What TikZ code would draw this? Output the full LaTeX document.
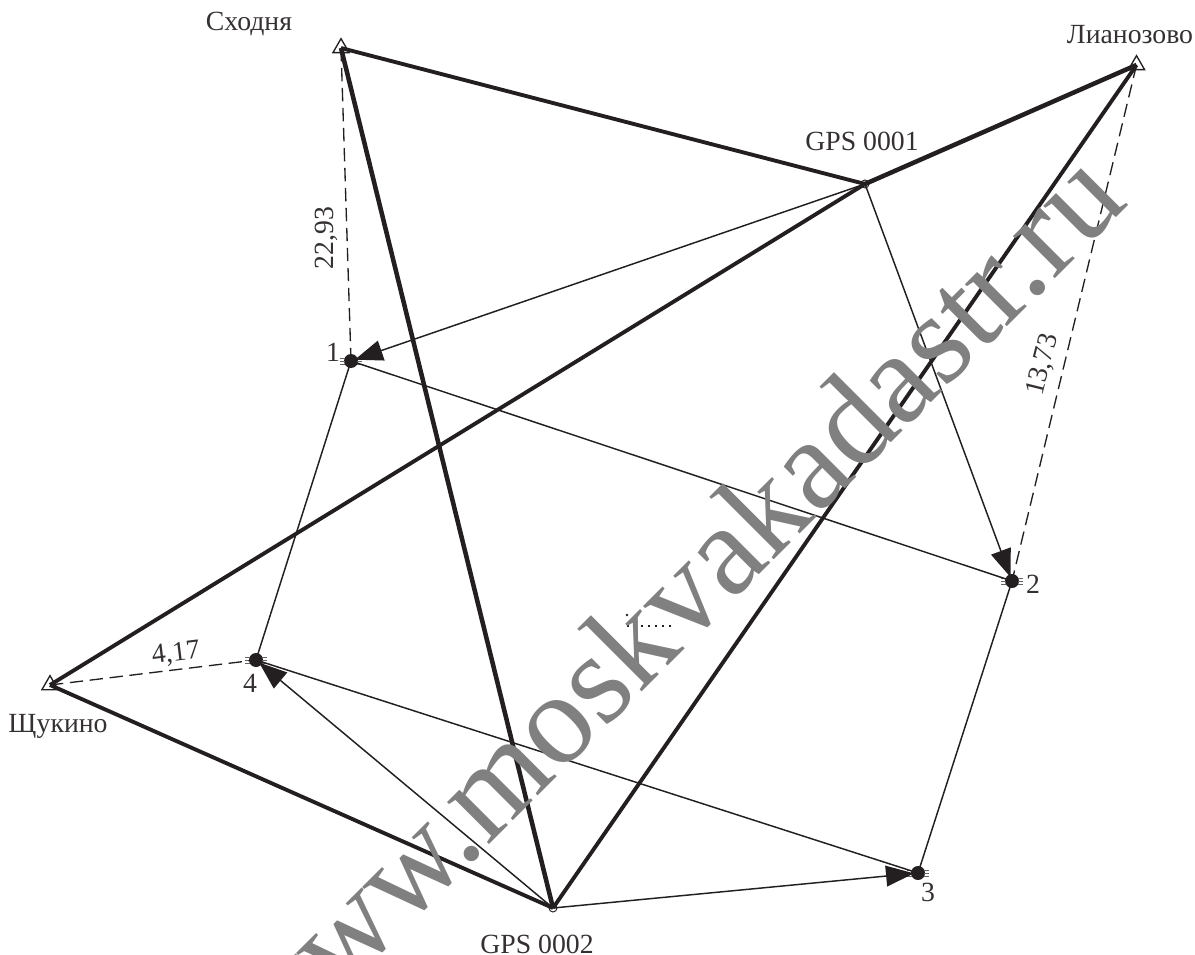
\documentclass[tikz,border=0pt]{standalone}
\usepackage{fontspec}
\setmainfont{Liberation Serif}
\usetikzlibrary{arrows.meta,shapes.geometric}
\definecolor{ink}{HTML}{231F20}
\tikzset{
  thick line/.style={line width=2.9pt,ink},
  heavy line/.style={line width=3.4pt,ink},
  thin line/.style={line width=1.1pt,ink},
  dash line/.style={line width=1.0pt,ink,dash pattern=on 10pt off 5pt},
  arrow line/.style={thin line,-{Triangle[length=21pt,width=15.5pt]},shorten >=3pt},
  lbl/.style={font=\fontsize{20.8pt}{24pt}\selectfont,text=ink!92,inner sep=0pt},
  tri/.style={draw=ink,line width=1pt,regular polygon,regular polygon sides=3,minimum size=14pt,inner sep=0pt},
  pt/.style={circle,fill=ink,minimum size=10.5pt,inner sep=0pt},
  gps/.style={circle,draw=ink,line width=0.7pt,minimum size=6pt,inner sep=0pt},
  hair/.style={line width=0.35pt,ink!70},
}
\begin{document}
\begin{tikzpicture}[x=0.75pt,y=-0.75pt]
\useasboundingbox (0,0) rectangle (1195,955);
\begin{scope}
\clip (0,0) rectangle (1195,955);
% stations and points
\node[tri] (S) at (341,48) {};
\node[tri] (L) at (1136.5,65) {};
\node[tri] (Sh) at (50,685) {};
\node[gps] (G1) at (865,184) {};
\node[gps] (G2) at (553,908) {};
\node[pt] (P1) at (351,361) {};
\node[pt] (P2) at (1012,581) {};
\node[pt] (P3) at (918,873) {};
\node[pt] (P4) at (256,660) {};
% hairline ticks on the points
\foreach \n in {P1,P2,P3,P4}{
  \foreach \dy in {-3,0,3}{
    \draw[hair] ([shift={(-11,\dy)}]\n.center) -- ([shift={(-6,\dy)}]\n.center);
    \draw[hair] ([shift={(6,\dy)}]\n.center) -- ([shift={(11,\dy)}]\n.center);
  }
}
% thick
\draw[thick line] (S.center) -- (G1.center);
\draw[heavy line] (S.center) -- (G2.center);
\draw[heavy line] (L.center) -- (G1.center);
\draw[thick line] (L.center) -- (G2.center);
\draw[thick line] (Sh.center) -- (G1.center);
\draw[thick line] (Sh.center) -- (G2.center);
% thin
\draw[thin line] (P1.center) -- (P4.center);
\draw[thin line] (P1.center) -- (P2.center);
\draw[thin line] (P2.center) -- (P3.center);
\draw[thin line] (P4.center) -- (P3.center);
\draw[arrow line] (G1.center) -- (P1.center);
\draw[arrow line] (G1.center) -- (P2.center);
\draw[arrow line] (G2.center) -- (P3.center);
\draw[arrow line] (G2.center) -- (P4.center);
% dashed
\draw[dash line] (S.center) -- (P1.center);
\draw[dash line] (L.center) -- (P2.center);
\draw[dash line] (Sh.center) -- (P4.center);
% dotted
\coordinate (D1) at (627,615);
\coordinate (D2) at (627,626);
\coordinate (D3) at (672,626);
\draw[line width=1.4pt,ink,dash pattern=on 1.5pt off 3.75pt] (D2) -- (D3);
\fill[ink] (D1) circle (1pt);
% labels
\node[lbl] (tS) at (249,24) {Сходня};
\node[lbl] (tL) at (1130,35) {Лианозово};
\node[lbl] (tSh) at (58,726) {Щукино};
\node[lbl] (tG1) at (862,141) {GPS 0001};
\node[lbl] (tG2) at (537,944) {GPS 0002};
\node[lbl] (t1) at (333,352) {1};
\node[lbl] (t2) at (1033,584) {2};
\node[lbl] (t3) at (928,892) {3};
\node[lbl] (t4) at (250,683) {4};
\node[lbl,rotate=90] (d1) at (326,238) {22,93};
\node[lbl,rotate=76] (d2) at (1043,365) {13,73};
\node[lbl,rotate=7] (d3) at (176,654) {4,17};
% watermark
\node[font=\fontsize{97pt}{100pt}\selectfont,text=black!50,rotate=45,inner sep=0pt,anchor=base] (wm) at (701,633) {www.moskvakadastr.ru};
\end{scope}
\end{tikzpicture}
\end{document}
